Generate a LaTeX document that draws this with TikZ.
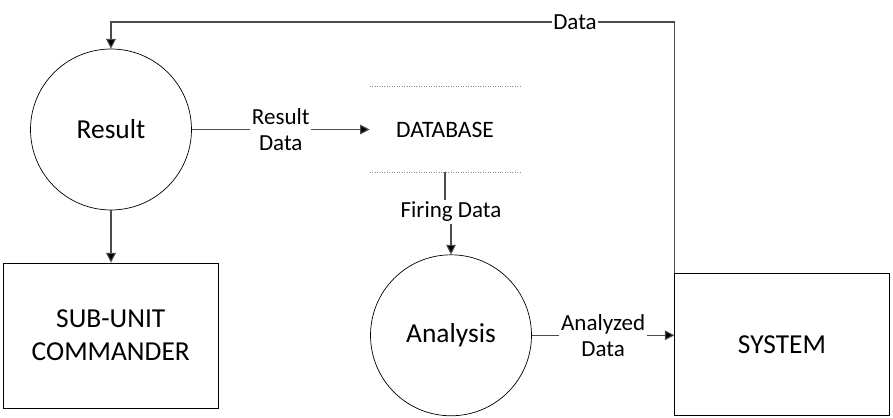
\documentclass[tikz,border=0pt]{standalone}
\usepackage{fontspec}
\setmainfont{Carlito}
\usetikzlibrary{arrows.meta}
\tikzset{
  proc/.style={draw, thin, circle, minimum size=3.22cm, inner sep=0pt,
    font=\fontsize{15.6}{18}\selectfont},
  ent/.style={draw, thin, rectangle, align=center, inner sep=0pt,
    font=\fontsize{15.6}{18.5}\selectfont},
  flow/.style={draw=black!70, semithick, -{Triangle[length=5.5pt,width=5.5pt,fill=black]}},
  lbl/.style={fill=white, align=center, inner sep=1pt,
    font=\fontsize{13.1}{14.8}\selectfont}
}
\begin{document}
\begin{tikzpicture}[x=0.02cm, y=-0.02cm]
  \useasboundingbox (0,0) rectangle (893,418);
  % processes and entities
  \node[proc] (res) at (111,129.5) {Result};
  \node[proc] (ana) at (451,335.3) {Analysis};
  \node[ent, minimum width=4.29cm, minimum height=2.9cm] (sub) at (110.75,335.4) {SUB-UNIT\\COMMANDER};
  \node[ent, minimum width=4.29cm, minimum height=2.85cm] (sys) at (782,344.5) {SYSTEM};
  % data store
  \node[minimum width=3cm, minimum height=1.7cm, inner sep=0pt,
    font=\fontsize{13.4}{16}\selectfont] (db) at (445,129.5) {DATABASE};
  \draw[black!45, densely dotted] (db.north west) -- (db.north east);
  \draw[black!45, densely dotted] (db.south west) -- (db.south east);
  % flows
  \draw[flow] (res.south) -- (res.south |- sub.north);
  \draw[flow] (res.east) -- node[lbl] {Result\\Data} (db.west);
  \coordinate (fd) at (448,212);
  \draw[flow] (db.south) |- (fd) -| (ana.north);
  \node[lbl] (fdl) at (451,212) {Firing Data};
  \draw[flow] (ana.east) -- node[lbl, pos=0.5] {Analyzed\\Data} (ana.east -| sys.west);
  \coordinate (dtop) at (575,22);
  \draw[flow] (sys.north west) |- (dtop) -| (res.north);
  \node[lbl] (dl) at (dtop) {Data};
\end{tikzpicture}
\end{document}
